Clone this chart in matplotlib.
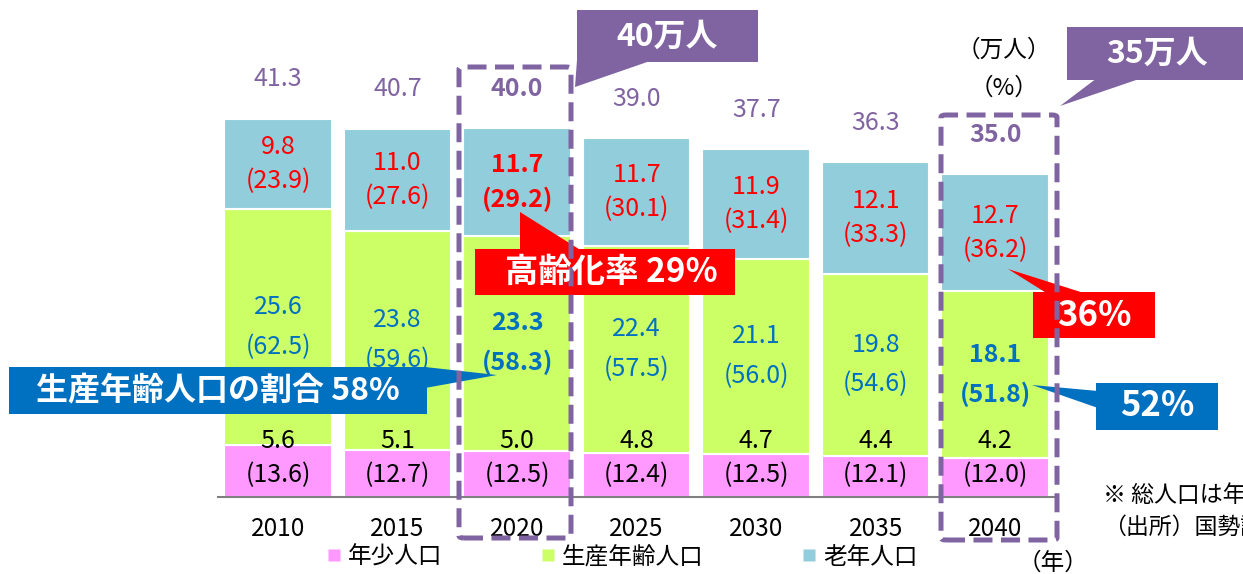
import numpy as np
import matplotlib
matplotlib.use("Agg")
import matplotlib.pyplot as plt
from matplotlib.patches import Polygon, FancyBboxPatch
from matplotlib.lines import Line2D

plt.rcParams['font.family'] = ['Noto Sans CJK JP', 'DejaVu Sans']

# ---------------- data ----------------
years = ["2010", "2015", "2020", "2025", "2030", "2035", "2040"]
young = [5.6, 5.1, 5.0, 4.8, 4.7, 4.4, 4.2]
working = [25.6, 23.8, 23.3, 22.4, 21.1, 19.8, 18.1]
old = [9.8, 11.0, 11.7, 11.7, 11.9, 12.1, 12.7]
totals = [41.3, 40.7, 40.0, 39.0, 37.7, 36.3, 35.0]
young_pct = [13.6, 12.7, 12.5, 12.4, 12.5, 12.1, 12.0]
working_pct = [62.5, 59.6, 58.3, 57.5, 56.0, 54.6, 51.8]
old_pct = [23.9, 27.6, 29.2, 30.1, 31.4, 33.3, 36.2]
bold_total = [False, False, True, False, False, False, True]
bold_working = [False, False, True, False, False, False, True]
bold_old = [False, False, True, False, False, False, False]
legend_labels = ["年少人口", "生産年齢人口", "老年人口"]

C_YOUNG = "#FF99FF"
C_WORK = "#CCFF66"
C_OLD = "#92CDDC"
PURPLE = "#8064A2"
RED = "#FF0000"
BLUE = "#0070C0"

W, H = 1243, 574
fig = plt.figure(figsize=(W / 100, H / 100), dpi=100)
ax = fig.add_axes([218 / W, 77 / H, (1055 - 218) / W, 461 / H])

x = np.arange(len(years))
y_arr = np.array(young)
w_arr = np.array(working)
o_arr = np.array(old)
bw = 0.9
ax.bar(x, y_arr, width=bw, color=C_YOUNG, edgecolor="white", linewidth=1.5, zorder=2)
ax.bar(x, w_arr, bottom=y_arr, width=bw, color=C_WORK, edgecolor="white", linewidth=1.5, zorder=2)
ax.bar(x, o_arr, bottom=y_arr + w_arr, width=bw, color=C_OLD, edgecolor="white", linewidth=1.5, zorder=2)

ax.set_xlim(-0.502, 6.50)
ax.set_ylim(0, 50)
for s in ["top", "left", "right"]:
    ax.spines[s].set_visible(False)
ax.spines["bottom"].set_color("#808080")
ax.spines["bottom"].set_linewidth(1.5)
ax.set_yticks([])
ax.set_xticks(x)
ax.set_xticklabels(years, fontsize=17.5)
ax.tick_params(axis="x", length=0, pad=14)

FS = 18
for i in range(len(years)):
    top = young[i] + working[i] + old[i]
    # totals
    ax.text(x[i], top + 4.3, f"{totals[i]:.1f}", ha="center", va="center", fontsize=FS,
            color=PURPLE, fontweight="bold" if bold_total[i] else "normal", zorder=5)
    # old
    oc = young[i] + working[i] + old[i] / 2
    fw = "bold" if bold_old[i] else "normal"
    ax.text(x[i], oc + 1.85, f"{old[i]:.1f}", ha="center", va="center", fontsize=FS, color=RED, fontweight=fw, zorder=5)
    ax.text(x[i], oc - 1.85, f"({old_pct[i]:.1f})", ha="center", va="center", fontsize=FS, color=RED, fontweight=fw, zorder=5)
    # working
    wc = young[i] + working[i] / 2
    fw = "bold" if bold_working[i] else "normal"
    ax.text(x[i], wc + 2.2, f"{working[i]:.1f}", ha="center", va="center", fontsize=FS, color=BLUE, fontweight=fw, zorder=5)
    ax.text(x[i], wc - 2.1, f"({working_pct[i]:.1f})", ha="center", va="center", fontsize=FS, color=BLUE, fontweight=fw, zorder=5)
    # young
    ax.text(x[i], 6.1, f"{young[i]:.1f}", ha="center", va="center", fontsize=FS, color="black", zorder=5)
    ax.text(x[i], 2.4, f"({young_pct[i]:.1f})", ha="center", va="center", fontsize=FS, color="black", zorder=5)

# ---------------- decorations in figure pixel coords ----------------
def P(px, py):
    return (px / W, 1 - py / H)

def poly(pts, color, z=6):
    fig.add_artist(Polygon([P(*p) for p in pts], closed=True, facecolor=color,
                           edgecolor="none", transform=fig.transFigure, zorder=z))

def box(x0, y0, x1, y1, color, z=6):
    poly([(x0, y0), (x1, y0), (x1, y1), (x0, y1)], color, z)

def dashed(x0, y0, x1, y1):
    p = FancyBboxPatch(P(x0, y1), (x1 - x0) / W, (y1 - y0) / H,
                       boxstyle="round,pad=0,rounding_size=0.004",
                       facecolor="none", edgecolor=PURPLE, linewidth=3.6,
                       linestyle=(0, (3.8, 1.7)), transform=fig.transFigure, zorder=8)
    fig.add_artist(p)

# dashed highlight frames
dashed(459, 67, 571, 538)
dashed(941, 115, 1057, 540)

# 40万人 callout
box(577, 10, 758, 62, PURPLE)
poly([(577, 60), (575, 87), (653, 60)], PURPLE)
fig.text(*P(667, 37), "40万人", ha="center", va="center", color="white", fontsize=23, fontweight="bold", zorder=9)

# 35万人 callout
box(1067, 27, 1243, 80, PURPLE)
poly([(1097, 78), (1060, 106), (1142, 78)], PURPLE)
fig.text(*P(1157, 54), "35万人", ha="center", va="center", color="white", fontsize=23, fontweight="bold", zorder=9)

# 高齢化率 callout
box(475, 249, 735, 295, RED, z=7)
poly([(520, 212), (520, 251), (582, 251)], RED, z=7)
fig.text(*P(611, 272), "高齢化率 29%", ha="center", va="center", color="white", fontsize=24, fontweight="bold", zorder=9)

# 36% callout
box(1033, 292, 1155, 338, RED, z=7)
poly([(1008, 269), (1048, 294), (1087, 294)], RED, z=7)
fig.text(*P(1094, 315), "36%", ha="center", va="center", color="white", fontsize=25, fontweight="bold", zorder=9)

# 52% callout
box(1096, 383, 1218, 430, BLUE, z=7)
poly([(1032, 385), (1098, 391), (1098, 408)], BLUE, z=7)
fig.text(*P(1157, 406), "52%", ha="center", va="center", color="white", fontsize=25, fontweight="bold", zorder=9)

# 生産年齢人口 callout
box(9, 367, 427, 414, BLUE, z=7)
poly([(425, 367), (497, 375), (425, 388)], BLUE, z=7)
fig.text(*P(218, 390), "生産年齢人口の割合 58%", ha="center", va="center", color="white", fontsize=23, fontweight="bold", zorder=9)

# unit labels and notes
fig.text(*P(1004, 50), "（万人）", ha="center", va="center", fontsize=17, color="black")
fig.text(*P(1004, 88), "（%）", ha="center", va="center", fontsize=17, color="black")
fig.text(*P(1053, 563), "（年）", ha="center", va="center", fontsize=17, color="black")
fig.text(*P(1103, 495), "※ 総人口は年齢不詳を含む", ha="left", va="center", fontsize=16.5, color="black")
fig.text(*P(1103, 527), "（出所）国勢調査", ha="left", va="center", fontsize=16.5, color="black")

# legend
handles = [Line2D([], [], marker="s", linestyle="none", markersize=8.5, markerfacecolor=c, markeredgecolor="none")
           for c in (C_YOUNG, C_WORK, C_OLD)]
fig.legend(handles, legend_labels, loc="center", bbox_to_anchor=P(622, 557), ncol=3, frameon=False,
           fontsize=17, handlelength=0.6, handletextpad=0.3, columnspacing=4.15, borderpad=0)

fig.savefig("out.png", dpi=100)
